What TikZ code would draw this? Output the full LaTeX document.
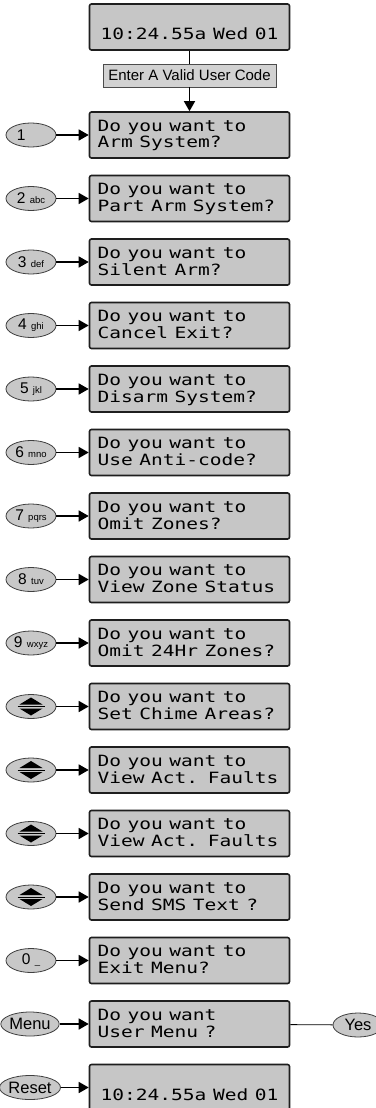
\documentclass[tikz,border=0pt]{standalone}
\usepackage{fontspec}
\usepackage{graphicx}
\usetikzlibrary{arrows.meta,shapes.geometric}
\newfontfamily\keyfont{Liberation Sans}
\newfontfamily\lcdfont{DejaVu Sans Mono}
\definecolor{lcdgrey}{HTML}{C6C6C6}
\definecolor{keygrey}{HTML}{C8C8C8}
\definecolor{codegrey}{HTML}{D2D2D2}
\definecolor{edgegrey}{HTML}{1E1E1E}
\def\lcdline#1{\scalebox{1.26}[1]{#1}}
\def\lcd#1#2{\rule{0pt}{19pt}\lcdline{#1}\\\lcdline{#2}\rule[-10pt]{0pt}{10pt}}
\def\updown#1{%
	\fill (#1.center) ++(-11.5,-2) -- ++(23,0) -- ++(-11.5,-7) -- cycle;
	\fill (#1.center) ++(-11.5,2) -- ++(23,0) -- ++(-11.5,7) -- cycle;
	\draw[line width=0.7pt] (#1.center) ++(-13.5,0) -- ++(27,0);}
\tikzset{
	lcdbox/.style={draw=edgegrey, fill=lcdgrey, line width=1.6pt, rounded corners=2pt,
		text width=184pt, inner xsep=8pt, inner ysep=0pt, align=left,
		font=\fontsize{15.5}{17}\lcdfont},
	idlebox/.style={lcdbox, align=center},
	codebox/.style={draw=black!70, fill=codegrey, line width=0.8pt, minimum width=173pt,
		minimum height=23pt, inner sep=0pt, font=\fontsize{15}{15}\keyfont},
	keyoval/.style={ellipse, draw=black!75, fill=keygrey, line width=0.8pt, minimum width=50pt,
		minimum height=24pt, inner sep=0pt, font=\fontsize{15.5}{15.5}\keyfont},
	wordkey/.style={keyoval, font=\fontsize{16.5}{16.5}\keyfont},
	keyarrow/.style={line width=1.5pt, -{Triangle[length=10pt,width=11pt]}},
}
\newcommand\abc[1]{{\fontsize{9.5}{9.5}\selectfont #1}}
\begin{document}
\begin{tikzpicture}[x=1pt, y=-1pt]
		%%%%% PAGE %%%%%
		\fill[white] (0, 0) rectangle (375, 1108);
		\useasboundingbox (0, 0) rectangle (375, 1108);
		
		%%%%% IDLE DISPLAY AND CODE %%%%%
		\node[idlebox] (idle) at (189.5, 27) {\lcd{}{10:24.55a Wed 01}};
		\node[codebox] (code) at (189.5, 75.5) {Enter A Valid User Code};
		
		%%%%% MENU DISPLAYS %%%%%
		\node[lcdbox] (m1) at (189.5, 135) {\lcd{Do you want to}{Arm System?}};
		\node[lcdbox] (m2) at (189.5, 198.5) {\lcd{Do you want to}{Part Arm System?}};
		\node[lcdbox] (m3) at (189.5, 262) {\lcd{Do you want to}{Silent Arm?}};
		\node[lcdbox] (m4) at (189.5, 325.5) {\lcd{Do you want to}{Cancel Exit?}};
		\node[lcdbox] (m5) at (189.5, 389) {\lcd{Do you want to}{Disarm System?}};
		\node[lcdbox] (m6) at (189.5, 452.5) {\lcd{Do you want to}{Use Anti-code?}};
		\node[lcdbox] (m7) at (189.5, 516) {\lcd{Do you want to}{Omit Zones?}};
		\node[lcdbox] (m8) at (189.5, 579.5) {\lcd{Do you want to}{View Zone Status}};
		\node[lcdbox] (m9) at (189.5, 643) {\lcd{Do you want to}{Omit 24Hr Zones?}};
		\node[lcdbox] (m10) at (189.5, 706.5) {\lcd{Do you want to}{Set Chime Areas?}};
		\node[lcdbox] (m11) at (189.5, 770) {\lcd{Do you want to}{View Act. Faults}};
		\node[lcdbox] (m12) at (189.5, 833.5) {\lcd{Do you want to}{View Act. Faults}};
		\node[lcdbox] (m13) at (189.5, 897) {\lcd{Do you want to}{Send SMS Text ?}};
		\node[lcdbox] (m14) at (189.5, 960.5) {\lcd{Do you want to}{Exit Menu?}};
		\node[lcdbox] (m15) at (189.5, 1024) {\lcd{Do you want}{User Menu ?}};
		\node[idlebox] (reset) at (189.5, 1087.5) {\lcd{}{10:24.55a Wed 01}};
		
		%%%%% KEYS %%%%%
		\node[keyoval] (k1) at (31, 135) {1\phantom{ \abc{abc}}};
		\node[keyoval] (k2) at (31, 198.5) {2 \abc{abc}};
		\node[keyoval] (k3) at (31, 262) {3 \abc{def}};
		\node[keyoval] (k4) at (31, 325.5) {4 \abc{ghi}};
		\node[keyoval] (k5) at (31, 389) {5 \abc{jkl}};
		\node[keyoval] (k6) at (31, 452.5) {6 \abc{mno}};
		\node[keyoval] (k7) at (31, 516) {7 \abc{pqrs}};
		\node[keyoval] (k8) at (31, 579.5) {8 \abc{tuv}};
		\node[keyoval] (k9) at (31, 643) {9 \abc{wxyz}};
		\node[keyoval] (k10) at (31, 706.5) {};
		\node[keyoval] (k11) at (31, 770) {};
		\node[keyoval] (k12) at (31, 833.5) {};
		\node[keyoval] (k13) at (31, 897) {};
		\node[keyoval] (k14) at (31, 960.5) {0 \abc{\_}};
		\node[wordkey] (k15) at (30, 1024) {Menu};
		\node[wordkey] (k16) at (30, 1087.5) {Reset};
		\node[wordkey] (yes) at (358, 1025) {Yes};
		
		\updown{k10}
		\updown{k11}
		\updown{k12}
		\updown{k13}
		
		%%%%% CONNECTORS %%%%%
		\draw[line width=1.5pt] (idle) -- (code);
		\draw[keyarrow] (code) -- (m1);
		
		\draw[keyarrow] (k1) -- (m1);
		\draw[keyarrow] (k2) -- (m2);
		\draw[keyarrow] (k3) -- (m3);
		\draw[keyarrow] (k4) -- (m4);
		\draw[keyarrow] (k5) -- (m5);
		\draw[keyarrow] (k6) -- (m6);
		\draw[keyarrow] (k7) -- (m7);
		\draw[keyarrow] (k8) -- (m8);
		\draw[keyarrow] (k9) -- (m9);
		\draw[keyarrow] (k10) -- (m10);
		\draw[keyarrow] (k11) -- (m11);
		\draw[keyarrow] (k12) -- (m12);
		\draw[keyarrow] (k13) -- (m13);
		\draw[keyarrow] (k14) -- (m14);
		\draw[keyarrow] (k15) -- (m15);
		\draw[keyarrow] (k16) -- (reset);
		
		\draw[line width=0.8pt] (m15) -- (yes);
		
		%%%%% END %%%%%
	\end{tikzpicture}
\end{document}
